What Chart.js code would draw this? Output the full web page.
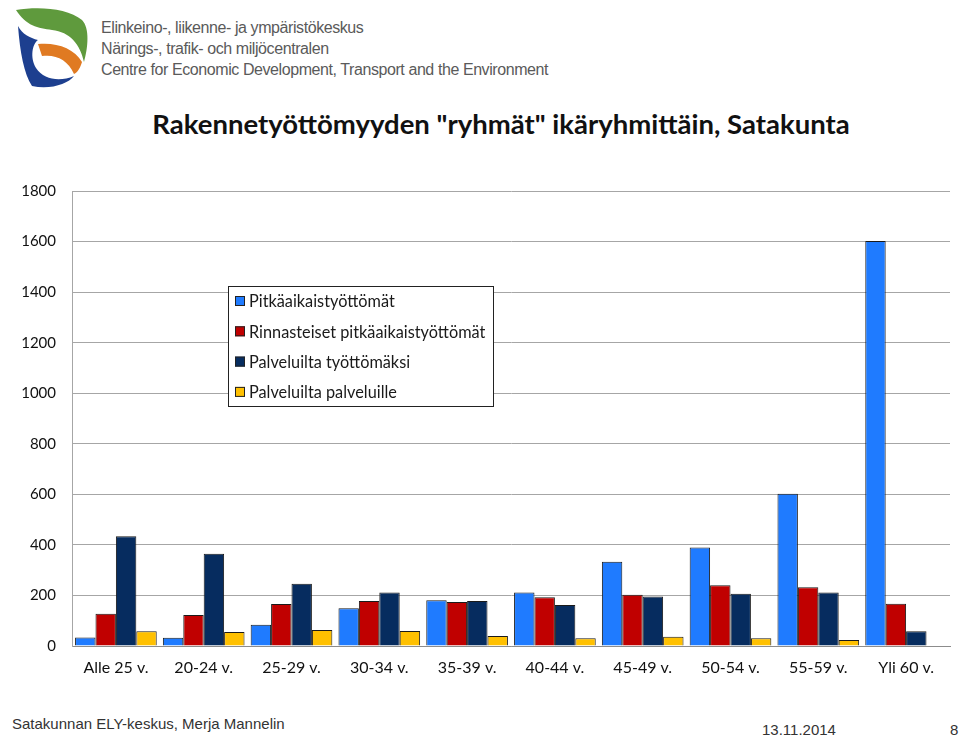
<!DOCTYPE html>
<html>
<head>
<meta charset="utf-8">
<script src="https://cdn.jsdelivr.net/npm/chart.js@4"></script>
<style>
  body { margin: 0; width: 960px; height: 737px; background: #fff; position: relative; overflow: hidden; }
  .hdr { position: absolute; left: 101px; font-family: "Liberation Sans", Arial, sans-serif; font-size: 16px; color: #5a5a5a; letter-spacing: -0.42px; }
  #title { position: absolute; left: 0; width: 1002px; top: 107px; text-align: center; font-family: Lato, sans-serif; font-weight: bold; font-size: 27.5px; color: #111; }
  #wrap { position: absolute; left: 0; top: 166px; width: 960px; height: 524px; }
  .ftr { position: absolute; font-family: "Liberation Sans", Arial, sans-serif; font-size: 15px; color: #333; }
</style>
</head>
<body>
<svg style="position:absolute;left:8px;top:4px" width="82" height="86" viewBox="0 0 82 86">
  <path d="M8 6 C30 2 60 4 74 16 C82 24 80 44 76 58 C72 40 62 28 44 26 C30 24 18 22 8 6 Z" fill="#5f9a3d"/>
  <path d="M30 40 C48 38 66 44 74 58 C72 64 70 68 66 70 C60 56 48 50 34 52 Z" fill="#e07a22"/>
  <path d="M10 22 C12 48 16 70 24 82 C42 86 60 80 66 72 C52 78 36 76 28 64 C22 54 24 40 30 36 C22 34 14 30 10 22 Z" fill="#1d3f8f"/>
</svg>
<div class="hdr" style="top:19px">Elinkeino-, liikenne- ja ympäristökeskus</div>
<div class="hdr" style="top:40px">Närings-, trafik- och miljöcentralen</div>
<div class="hdr" style="top:61px">Centre for Economic Development, Transport and the Environment</div>
<div id="title">Rakennetyöttömyyden "ryhmät" ikäryhmittäin, Satakunta</div>
<div id="wrap"><canvas id="chart"></canvas></div>
<div class="ftr" style="left:12px;top:715px">Satakunnan ELY-keskus, Merja Mannelin</div>
<div class="ftr" style="left:762px;top:721px">13.11.2014</div>
<div class="ftr" style="left:950px;top:721px">8</div>
<script>
const categories = ["Alle 25 v.", "20-24 v.", "25-29 v.", "30-34 v.", "35-39 v.", "40-44 v.", "45-49 v.", "50-54 v.", "55-59 v.", "Yli 60 v."];
const seriesNames = ["Pitkäaikaistyöttömät", "Rinnasteiset pitkäaikaistyöttömät", "Palveluilta työttömäksi", "Palveluilta palveluille"];
const pitkaaikaiset = [34, 33, 84, 149, 181, 212, 333, 390, 602, 1602];
const rinnasteiset = [128, 123, 166, 178, 174, 193, 203, 240, 232, 167];
const tyottomaksi = [434, 365, 246, 212, 178, 162, 196, 207, 212, 58];
const palveluille = [58, 55, 63, 59, 40, 31, 37, 31, 24, 0];
const yTicks = [0, 200, 400, 600, 800, 1000, 1200, 1400, 1600, 1800];

const colors = ["#1f7bff", "#c00000", "#062c5f", "#ffc000"];
const seriesData = [pitkaaikaiset, rinnasteiset, tyottomaksi, palveluille];

// legenda piirretään kaavion sisälle laatikkoon
const boxLegend = {
  id: "boxLegend",
  afterDraw(chart) {
    const ctx = chart.ctx;
    const a = chart.chartArea;
    const x = a.left + 156, y = a.top + 95, w = 265, h = 120;
    ctx.save();
    ctx.fillStyle = "#fff";
    ctx.fillRect(x, y, w, h);
    ctx.strokeStyle = "#222";
    ctx.lineWidth = 1;
    ctx.strokeRect(x + 0.5, y + 0.5, w, h);
    ctx.font = "16.3px Lato, sans-serif";
    ctx.textBaseline = "middle";
    chart.data.datasets.forEach((ds, i) => {
      const cy = y + 15 + i * 30.3;
      ctx.fillStyle = ds.backgroundColor;
      ctx.fillRect(x + 7, cy - 5, 10, 10);
      ctx.strokeStyle = "#222";
      ctx.strokeRect(x + 7.5, cy - 4.5, 9, 9);
      ctx.fillStyle = "#1a1a1a";
      ctx.fillText(ds.label, x + 21, cy + 1);
    });
    ctx.restore();
  }
};

const chart = new Chart(document.getElementById("chart").getContext("2d"), {
  type: "bar",
  data: {
    labels: categories,
    datasets: seriesNames.map((name, i) => ({
      label: name,
      data: seriesData[i],
      backgroundColor: colors[i],
      borderColor: "#1a1a1a",
      borderWidth: 1,
      categoryPercentage: 0.93,
      barPercentage: 1.0,
    })),
  },
  options: {
    responsive: true,
    maintainAspectRatio: false,
    animation: false,
    layout: { padding: { top: 0, right: 10, left: 0, bottom: 0 } },
    plugins: {
      legend: { display: false },
      tooltip: { enabled: false },
    },
    scales: {
      x: {
        grid: { display: false, drawTicks: false },
        border: { color: "#8c8c8c", width: 1 },
        ticks: { color: "#111", font: { family: "Lato, sans-serif", size: 16 }, padding: 12, maxRotation: 0 },
        afterFit(scale) { scale.height = 44; },
      },
      y: {
        min: 0,
        max: 1800,
        afterBuildTicks(scale) { scale.ticks = yTicks.map(v => ({ value: v })); },
        grid: { color: "#a6a6a6", drawTicks: false },
        border: { color: "#a6a6a6", width: 1 },
        ticks: { color: "#111", font: { family: "Lato, sans-serif", size: 15 }, padding: 16, callback: v => String(v) },
        afterFit(scale) { scale.width = 72; },
      },
    },
  },
  plugins: [boxLegend],
});
</script>
</body>
</html>
